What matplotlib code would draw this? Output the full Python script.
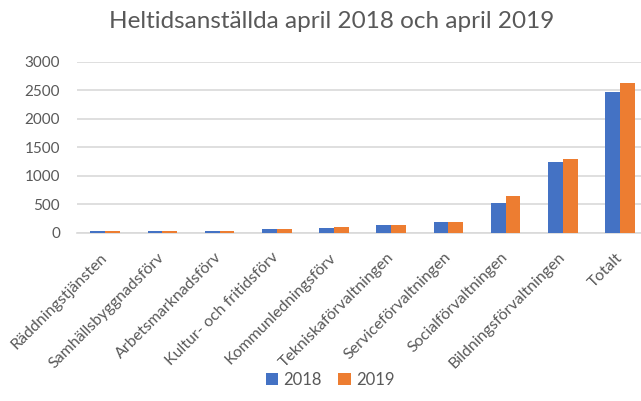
import numpy as np
import matplotlib
matplotlib.use("Agg")
import matplotlib.pyplot as plt

categories = ["Räddningstjänsten", "Samhällsbyggnadsförv", "Arbetsmarknadsförv",
              "Kultur- och fritidsförv", "Kommunledningsförv", "Tekniskaförvaltningen",
              "Serviceförvaltningen", "Socialförvaltningen", "Bildningsförvaltningen",
              "Totalt"]
v2018 = [35, 35, 40, 76, 88, 146, 185, 530, 1250, 2465]
v2019 = [35, 35, 41, 76, 99, 146, 185, 645, 1300, 2628]
series_names = ["2018", "2019"]
yticks = [0, 500, 1000, 1500, 2000, 2500, 3000]

plt.rcParams['font.family'] = ['Lato', 'DejaVu Sans']
txt = '#595959'

W, H = 641, 401
fig = plt.figure(figsize=(W / 100, H / 100), dpi=100)
# axes box in pixels: left 76.6, right 648.6 (cut by figure edge), top 61.7, bottom 233
ax = fig.add_axes([76.6 / W, (H - 233) / H, 572 / W, 171.3 / H])

x = np.arange(len(categories))
bw = 0.257
ax.bar(x - bw / 2, v2018, bw, color='#4472C4', label=series_names[0], zorder=3)
ax.bar(x + bw / 2, v2019, bw, color='#ED7D31', label=series_names[1], zorder=3)

ax.set_xlim(-0.5, len(categories) - 0.5)
ax.set_ylim(0, 3000)
ax.set_yticks(yticks)
ax.set_yticklabels([str(t) for t in yticks])
ax.grid(axis='y', color='#D9D9D9', linewidth=1.2, zorder=0)
for s in ['top', 'right', 'left']:
    ax.spines[s].set_visible(False)
ax.spines['bottom'].set_color('#D9D9D9')
ax.spines['bottom'].set_linewidth(1.2)
ax.tick_params(axis='both', length=0, labelsize=11, labelcolor=txt)
ax.tick_params(axis='y', pad=12)

ax.set_xticks(x)
ax.set_xticklabels(categories, rotation=45, ha='right', rotation_mode='anchor',
                   va='center', fontsize=11.5)
ax.tick_params(axis='x', pad=16)

fig.text(332 / W, 1 - 22 / H, "Heltidsanställda april 2018 och april 2019",
         ha='center', va='center', fontsize=17.5, color=txt)

fig.legend(loc='center', bbox_to_anchor=(330 / W, 1 - 380 / H), ncol=2,
           frameon=False, fontsize=12, labelcolor=txt, handlelength=0.75,
           handleheight=0.75, handletextpad=0.3, columnspacing=1.0)

fig.savefig("out.png", dpi=100)
